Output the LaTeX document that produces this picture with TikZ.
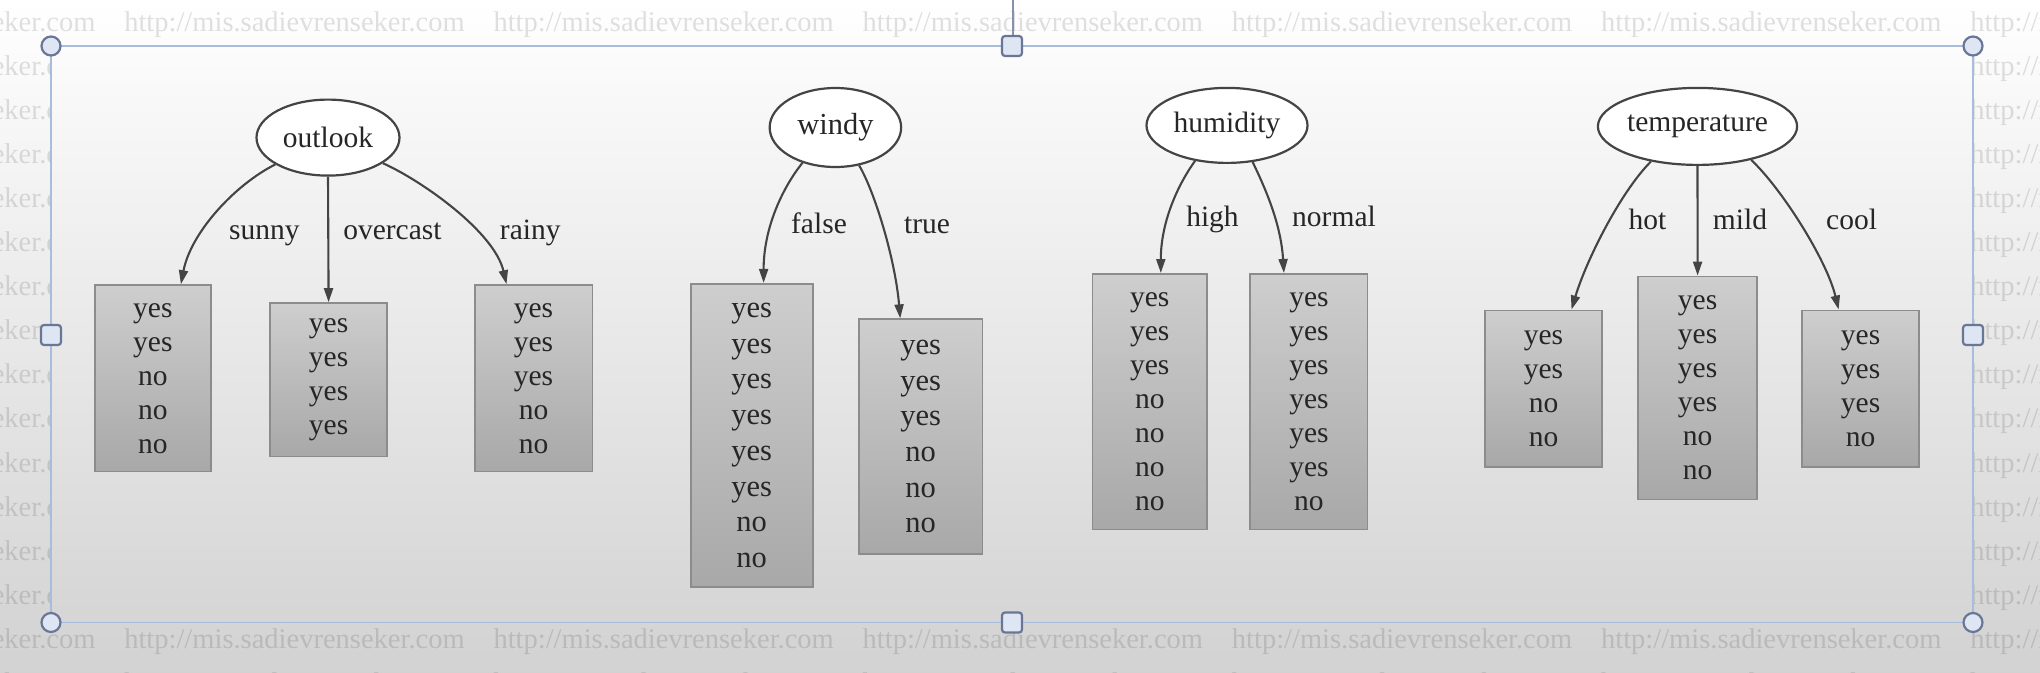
\documentclass[tikz,border=0pt]{standalone}
\usepackage{fontspec}
\setmainfont{Liberation Serif}
\usetikzlibrary{shapes.geometric,arrows.meta}
\definecolor{boxtop}{RGB}{206,206,206}
\definecolor{boxbot}{RGB}{168,168,168}
\definecolor{boxline}{RGB}{140,140,140}
\definecolor{edgec}{RGB}{68,68,68}
\definecolor{textc}{RGB}{38,38,38}
\definecolor{framec}{RGB}{168,188,222}
\definecolor{handlefill}{RGB}{222,229,243}
\definecolor{handledraw}{RGB}{105,118,150}
\definecolor{bgbot}{RGB}{210,210,210}
\begin{document}
\begin{tikzpicture}[x=1pt,y=-1pt,
  attr/.style={ellipse, draw=edgec, line width=2.2pt, fill=white, inner sep=0pt,
    text=textc, font=\fontsize{29.5}{34}\selectfont},
  leaf/.style={draw=boxline, line width=1.8pt, top color=boxtop, bottom color=boxbot,
    anchor=north, inner sep=0pt, align=center, text=textc,
    font=\fontsize{29.5}{34}\selectfont},
  bigleaf/.style={leaf, font=\fontsize{30.5}{35.7}\selectfont},
  lbl/.style={anchor=base, inner sep=0pt, text=textc, font=\fontsize{29.5}{34}\selectfont},
  edgearrow/.style={draw=edgec, line width=2.1pt, -{Triangle[length=14pt,width=9pt]}},
  wm/.style={anchor=base west, inner sep=0pt, text=black, text opacity=0.12,
    font=\fontsize{28.5}{30}\selectfont},
  handle/.style={draw=handledraw, fill=handlefill, line width=2.2pt}]
\useasboundingbox (0,0) rectangle (2040,672);
\shade[top color=white, middle color=white, bottom color=bgbot] (0,0) rectangle (2040,672);

% watermark outside the frame
\begin{scope}[even odd rule]
  \clip (0,0) rectangle (2040,672) (51,46) rectangle (1973,622.5);
  \foreach \r in {0,...,15}{
    \foreach \c in {-1,...,5}{
      \node[wm] (wm-\r-\c) at ({124.1+369.2*\c},{31+44.1*\r}) {http://mis.sadievrenseker.com};
    }
  }
\end{scope}

% selection frame
\draw[framec, line width=1.6pt] (51,46) rectangle (1973,622.5);
\draw[handledraw!80, line width=1.5pt] (1013,0) -- (1013,36);
\foreach \p in {(51,46),(1973,46),(51,622.5),(1973,622.5)}
  \draw[handle] \p circle (9.5);
\foreach \p in {(1012,46),(1012,622.5),(51,335),(1973,335)}
  \draw[handle, rounded corners=3pt] \p ++(-10,-10) rectangle ++(20,20);

% ---- outlook
\node[attr, minimum width=143pt, minimum height=76pt] (outlook) at (328,137.6) {outlook};
\node[leaf, minimum width=115.6pt, minimum height=186.4pt] (sunny) at (152.9,284.2) {yes\\yes\\no\\no\\no};
\node[leaf, minimum width=117pt, minimum height=153.4pt] (overcast) at (328.6,302.2) {yes\\yes\\yes\\yes};
\node[leaf, minimum width=117.8pt, minimum height=186.4pt] (rainy) at (533.5,284.2) {yes\\yes\\yes\\no\\no};
\draw[edgearrow] (outlook.207) .. controls +(-40,20) and +(10,-52) .. ([xshift=28pt]sunny.north);
\draw[edgearrow] (outlook.270) -- (overcast.north);
\draw[edgearrow] (outlook.335) .. controls +(40,18) and +(-12,-52) .. ([xshift=-27pt]rainy.north);
\node[lbl] (l-sunny) at (264.3,239) {sunny};
\node[lbl] (l-overcast) at (392.4,239) {overcast};
\node[lbl] (l-rainy) at (530.3,239) {rainy};

% ---- windy
\node[attr, minimum width=131.5pt, minimum height=79pt, font=\fontsize{30.5}{36}\selectfont] (windy) at (835.4,127.5) {windy};
\node[bigleaf, minimum width=122pt, minimum height=303.4pt] (false) at (751.6,282.9) {yes\\yes\\yes\\yes\\yes\\yes\\no\\no};
\node[bigleaf, minimum width=123.4pt, minimum height=234.5pt] (true) at (920.7,318.4) {yes\\yes\\yes\\no\\no\\no};
\draw[edgearrow] (windy.227) .. controls +(-20,25) and +(0,-55) .. ([xshift=12pt]false.north);
\draw[edgearrow] (windy.302) .. controls +(15,25) and +(-5,-60) .. ([xshift=-20.5pt]true.north);
\node[lbl] (l-false) at (819,233) {false};
\node[lbl] (l-true) at (927,233) {true};

% ---- humidity
\node[attr, minimum width=161pt, minimum height=75pt] (humidity) at (1227,125.4) {humidity};
\node[leaf, minimum width=114.8pt, minimum height=255.5pt] (high) at (1149.8,273) {yes\\yes\\yes\\no\\no\\no\\no};
\node[leaf, minimum width=117.2pt, minimum height=255.5pt] (normal) at (1308.9,273) {yes\\yes\\yes\\yes\\yes\\yes\\no};
\draw[edgearrow] (humidity.228) .. controls +(-18,25) and +(0,-50) .. ([xshift=11pt]high.north);
\draw[edgearrow] (humidity.305) .. controls +(12,25) and +(-3,-50) .. ([xshift=-25pt]normal.north);
\node[lbl] (l-high) at (1212.5,226) {high};
\node[lbl] (l-normal) at (1334,226) {normal};

% ---- temperature
\node[attr, minimum width=195pt, minimum height=77pt] (temperature) at (1697.5,126.4) {temperature};
\node[leaf, minimum width=117pt, minimum height=156.5pt] (hot) at (1543.5,309.5) {yes\\yes\\no\\no};
\node[leaf, minimum width=119pt, minimum height=223pt] (mild) at (1697.6,275.6) {yes\\yes\\yes\\yes\\no\\no};
\node[leaf, minimum width=117.2pt, minimum height=156.5pt] (cool) at (1860.6,309.5) {yes\\yes\\yes\\no};
\draw[edgearrow] (temperature.217) .. controls +(-30,30) and +(15,-50) .. ([xshift=28pt]hot.north);
\draw[edgearrow] (temperature.270) -- (mild.north);
\draw[edgearrow] (temperature.328) .. controls +(30,28) and +(-12,-50) .. ([xshift=-22pt]cool.north);
\node[lbl] (l-hot) at (1647.4,229) {hot};
\node[lbl] (l-mild) at (1740,229) {mild};
\node[lbl] (l-cool) at (1851.6,229) {cool};
\end{tikzpicture}
\end{document}
